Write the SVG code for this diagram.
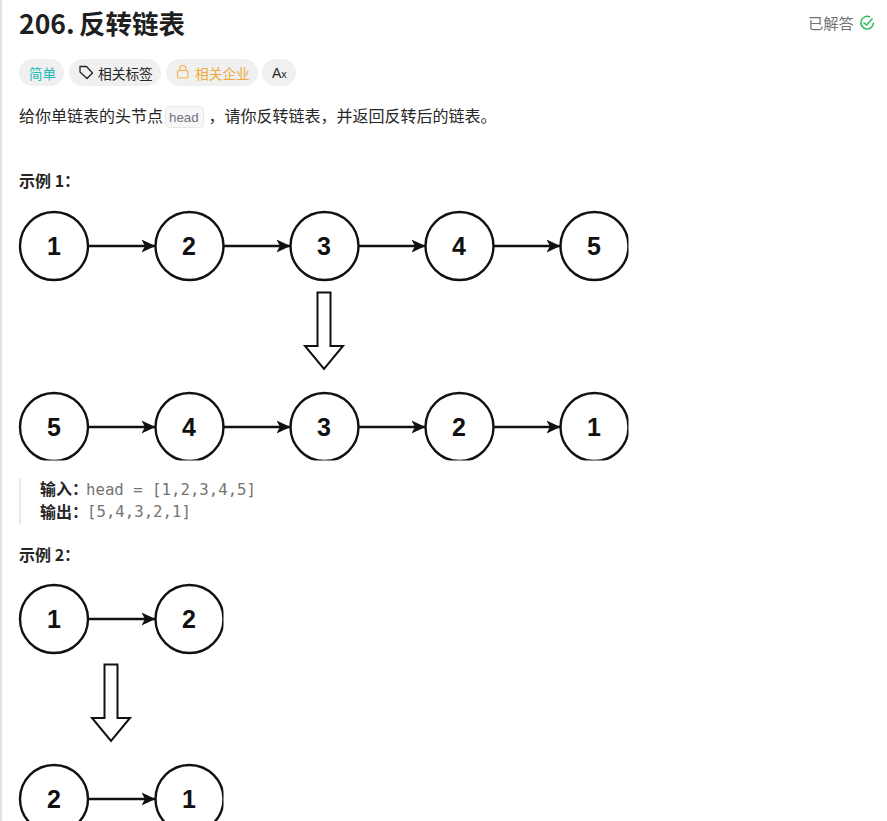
<svg xmlns="http://www.w3.org/2000/svg" width="887" height="821" viewBox="0 0 887 821">
<style>
text{font-family:"Liberation Sans","Noto Sans CJK SC",sans-serif}
.ui{font-family:"Noto Sans CJK SC","Noto Sans",sans-serif}
.t{font-size:16px;fill:#262626}
.h{font-size:16px;font-weight:700;fill:#262626}
.pill{fill:#f0f0f0}
.c{fill:#fff;stroke:#111;stroke-width:2.4}
.n{font-size:25px;font-weight:700;fill:#111;text-anchor:middle}
.l{stroke:#111;stroke-width:2.4;fill:none;marker-end:url(#a)}
.d{fill:#fff;stroke:#111;stroke-width:2;stroke-linejoin:miter}
.m{font-family:"DejaVu Sans Mono","Liberation Mono",monospace;font-size:15.7px;fill:#737373}
</style>
<defs>
<marker id="a" markerUnits="userSpaceOnUse" markerWidth="15" markerHeight="15" refX="14" refY="7.5" orient="auto"><path d="M0 1 L14 7.500 L0 14 L3.500 7.500Z" fill="#111"/></marker>
<clipPath id="r1"><rect x="0" y="200" width="628.500" height="260.500"/></clipPath>
<clipPath id="r2"><rect x="0" y="570" width="223.500" height="251"/></clipPath>
</defs>
<rect width="887" height="821" fill="#fff"/>
<rect x="0" y="0" width="2" height="821" fill="#e3e3e3"/>

<g id="header">
<text class="ui" y="34" font-size="26.500" font-weight="700" fill="#1f1f1f"><tspan x="19">206.</tspan><tspan x="79">反转链表</tspan></text>
<text class="ui" x="808" y="29" font-size="15.300" fill="#737373">已解答</text>
<g fill="none" stroke="#2cbb5d" stroke-width="1.500"><path d="M873.500 22.500 A6.300 6.300 0 1 1 870 17"/><path d="M863.500 22.500 L866.500 25 L872.500 18.500"/></g>
</g>
<g id="tag-easy"><rect class="pill" x="19" y="59" width="45" height="27" rx="13.500"/><text class="ui" x="29" y="79" font-size="13.500" fill="#1cbaba">简单</text></g>
<g id="tag-topics"><rect class="pill" x="69" y="59" width="92" height="27" rx="13.500"/>
<path d="M80 66.500 L86.500 66.500 L92.500 73 L87 78.500 L80 72Z" fill="none" stroke="#262626" stroke-width="1.300" stroke-linejoin="round"/>
<text class="ui" x="98" y="79" font-size="13.700" fill="#262626">相关标签</text></g>
<g id="tag-company"><rect class="pill" x="166" y="59" width="92" height="27" rx="13.500"/>
<rect x="177.500" y="70.500" width="10.500" height="7.500" rx="1.500" fill="none" stroke="#f5b04d" stroke-width="1.200"/><path d="M179.800 70.500 V68.500 A3 3 0 0 1 185.800 68.500 V70.500" fill="none" stroke="#f5b04d" stroke-width="1.200"/>
<text class="ui" x="195" y="79" font-size="13.700" fill="#eeaa3c">相关企业</text></g>
<g id="tag-translate"><rect class="pill" x="262" y="59" width="34" height="27" rx="13.500"/><text x="272" y="78" font-size="14" fill="#262626">A<tspan font-size="11">x</tspan></text></g>

<g id="description">
<text class="ui t" x="19" y="122">给你单链表的头节点</text>
<rect x="165.500" y="106.500" width="38" height="21" rx="4" fill="#f7f7f8" stroke="#e8e8e8"/>
<text x="169" y="122" font-family="DejaVu Sans Mono,monospace" font-size="13.300" fill="#6f7580">head</text>
<text class="ui t" x="208.500" y="122">，请你反转链表，并返回反转后的链表。</text>
</g>
<text class="ui h" x="19" y="186.500">示例 1：</text>

<g id="connectors">
<path class="l" d="M89 246 H155.500"/><path class="l" d="M224 246 H290.500"/><path class="l" d="M359 246 H425.500"/><path class="l" d="M494 246 H560.500"/>
<path class="l" d="M89 427 H155.500"/><path class="l" d="M224 427 H290.500"/><path class="l" d="M359 427 H425.500"/><path class="l" d="M494 427 H560.500"/>
<path class="l" d="M89 619 H155.500"/><path class="l" d="M89 799 H155.500"/>
</g>
<g clip-path="url(#r1)">
<g id="n1a"><circle class="c" cx="54" cy="246" r="34"/><text class="n" x="54" y="255">1</text></g>
<g id="n2a"><circle class="c" cx="189.500" cy="246" r="34"/><text class="n" x="189" y="255">2</text></g>
<g id="n3a"><circle class="c" cx="324.500" cy="246" r="34"/><text class="n" x="324" y="255">3</text></g>
<g id="n4a"><circle class="c" cx="459.500" cy="246" r="34"/><text class="n" x="459" y="255">4</text></g>
<g id="n5a"><circle class="c" cx="594.500" cy="246" r="34"/><text class="n" x="594" y="255">5</text></g>
<g id="n5b"><circle class="c" cx="54" cy="427" r="34"/><text class="n" x="54" y="436">5</text></g>
<g id="n4b"><circle class="c" cx="189.500" cy="427" r="34"/><text class="n" x="189" y="436">4</text></g>
<g id="n3b"><circle class="c" cx="324.500" cy="427" r="34"/><text class="n" x="324" y="436">3</text></g>
<g id="n2b"><circle class="c" cx="459.500" cy="427" r="34"/><text class="n" x="459" y="436">2</text></g>
<g id="n1b"><circle class="c" cx="594.500" cy="427" r="34"/><text class="n" x="594" y="436">1</text></g>
</g>
<path id="down1" class="d" d="M317.500 292.500 H330.500 V346 H343 L324 369 L305 346 H317.500Z"/>

<g id="example1-io">
<rect x="19" y="479" width="2" height="45" fill="#e8e8e8"/>
<text class="ui h" x="40" y="494.500">输入：</text><text class="m" x="86" y="494.500">head = [1,2,3,4,5]</text>
<text class="ui h" x="40" y="517.500">输出：</text><text class="m" x="87" y="517">[5,4,3,2,1]</text>
</g>
<text class="ui h" x="19" y="560.500">示例 2：</text>

<g clip-path="url(#r2)">
<g id="n1c"><circle class="c" cx="54" cy="619" r="34"/><text class="n" x="54" y="628">1</text></g>
<g id="n2c"><circle class="c" cx="189.500" cy="619" r="34"/><text class="n" x="189" y="628">2</text></g>
<g id="n2d"><circle class="c" cx="54" cy="799" r="34"/><text class="n" x="54" y="808">2</text></g>
<g id="n1d"><circle class="c" cx="189.500" cy="799" r="34"/><text class="n" x="189" y="808">1</text></g>
</g>
<path id="down2" class="d" d="M104.500 664.500 H117.500 V718 H130 L111 741 L92 718 H104.500Z"/>
</svg>
